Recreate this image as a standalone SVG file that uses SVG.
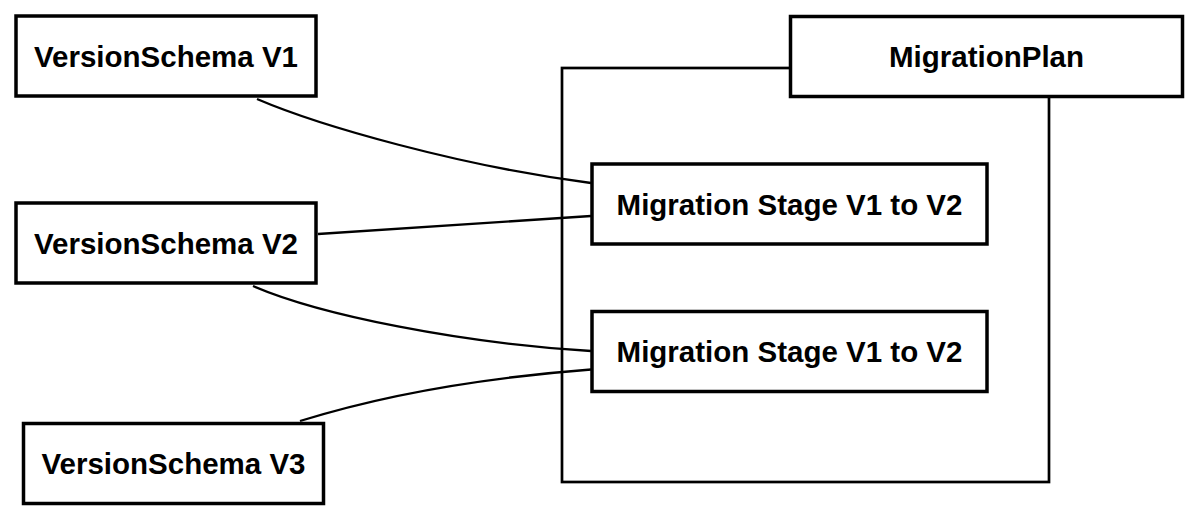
<svg xmlns="http://www.w3.org/2000/svg" width="1198" height="512" viewBox="0 0 1198 512">
<style>
.box{fill:#fff;stroke:#000;stroke-width:3.5}
.frame{fill:none;stroke:#000;stroke-width:2.7}
.lbl{font-family:"Liberation Sans",Arial,Helvetica,sans-serif;font-weight:bold;font-size:29.5px;fill:#000;text-anchor:middle}
.conn{fill:none;stroke:#000;stroke-width:2.3}
</style>
<rect width="1198" height="512" fill="#fff"/>
<g id="migration-plan-frame">
<rect class="frame" x="562" y="68" width="487" height="414"/>
</g>
<g id="connectors">
<path class="conn" d="M 257 99 C 320 126, 460 166, 591 183"/>
<path class="conn" d="M 318 234 L 591 216"/>
<path class="conn" d="M 253 286 C 320 315, 460 343, 591 351"/>
<path class="conn" d="M 300 421 C 380 396, 480 378, 591 369.5"/>
</g>
<g id="version-schema-v1">
<rect class="box" x="16" y="16" width="300" height="80"/>
<text class="lbl" x="166" y="66.5">VersionSchema V1</text>
</g>
<g id="version-schema-v2">
<rect class="box" x="16" y="203" width="300" height="80"/>
<text class="lbl" x="166" y="253.5">VersionSchema V2</text>
</g>
<g id="version-schema-v3">
<rect class="box" x="23.5" y="423.5" width="300" height="80"/>
<text class="lbl" x="173.5" y="474">VersionSchema V3</text>
</g>
<g id="migration-plan">
<rect class="box" x="790.5" y="16.5" width="392" height="80"/>
<text class="lbl" x="986.5" y="67">MigrationPlan</text>
</g>
<g id="stage-1">
<rect class="box" x="592" y="164" width="395" height="80"/>
<text class="lbl" x="789.5" y="214.5">Migration Stage V1 to V2</text>
</g>
<g id="stage-2">
<rect class="box" x="592" y="311.5" width="395" height="80"/>
<text class="lbl" x="789.5" y="362">Migration Stage V1 to V2</text>
</g>
</svg>
